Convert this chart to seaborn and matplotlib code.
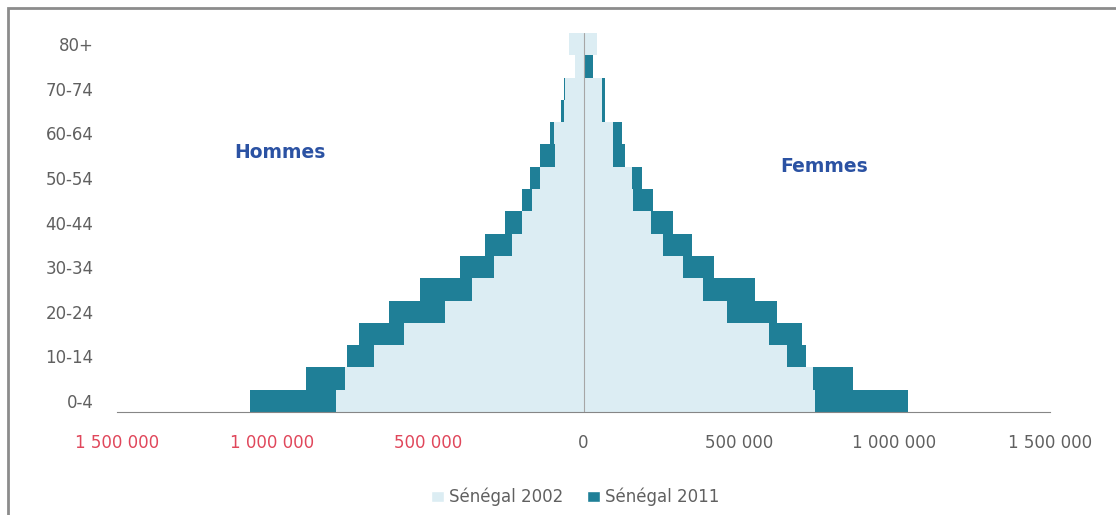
import pandas as pd
import numpy as np
import matplotlib.pyplot as plt
import seaborn as sns
from matplotlib.patches import Patch, Rectangle

ages = ['0-4', '5-9', '10-14', '15-19', '20-24', '25-29', '30-34', '35-39',
        '40-44', '45-49', '50-54', '55-59', '60-64', '65-69', '70-74', '75-79', '80+']
hommes_2002 = [797000, 766000, 675000, 578000, 444000, 359000, 289000, 230000,
               199000, 166000, 139000, 91000, 96000, 64000, 60000, 28000, 48000]
hommes_2011 = [1073000, 891000, 762000, 723000, 626000, 525000, 398000, 318000,
               252000, 198000, 171000, 139000, 107000, 71000, 64000, 24000, 40000]
femmes_2002 = [744000, 739000, 653000, 597000, 463000, 385000, 321000, 257000,
               216000, 160000, 155000, 96000, 96000, 58000, 58000, 4000, 42000]
femmes_2011 = [1044000, 865000, 715000, 701000, 621000, 551000, 420000, 350000,
               287000, 225000, 187000, 134000, 125000, 70000, 70000, 32000, 38000]
x_ticks = [-1500000, -1000000, -500000, 0, 500000, 1000000, 1500000]

light = '#dcedf3'
dark = '#1f7f97'
gray_text = '#606060'

sns.set_style('white')
plt.rcParams['font.family'] = ['DejaVu Sans']

fig = plt.figure(figsize=(11.16, 5.15), dpi=100)
ax = fig.add_axes([117 / 1116, 1 - 412 / 515, (1050 - 117) / 1116, (412 - 33) / 515])

order = ages[::-1]
df = pd.DataFrame({'age': ages,
                   'h2002': -np.array(hommes_2002), 'h2011': -np.array(hommes_2011),
                   'f2002': femmes_2002, 'f2011': femmes_2011})

# 2011 drawn first, 2002 on top (as in the original chart)
for col, c in [('h2011', dark), ('f2011', dark), ('h2002', light), ('f2002', light)]:
    sns.barplot(data=df, x=col, y='age', order=order, orient='h', width=1.0,
                color=c, saturation=1, errorbar=None, linewidth=0, ax=ax)

ax.axvline(0, color='#a6a6a6', lw=0.8, zorder=5)

ax.set_xlim(-1500000, 1500000)
ax.set_ylim(len(ages) - 0.5, -0.5)
ax.set_xlabel('')
ax.set_ylabel('')

ax.set_xticks(x_ticks)
ax.set_xticklabels([f'{abs(v):,}'.replace(',', ' ') for v in x_ticks], fontsize=12)
for lab, v in zip(ax.get_xticklabels(), x_ticks):
    lab.set_color('#e0475b' if v < 0 else gray_text)

ax.set_yticks(range(len(order)))
ax.set_yticklabels([a if ages.index(a) % 2 == 0 else '' for a in order],
                   fontsize=12, color=gray_text)

for s in ['top', 'right', 'left']:
    ax.spines[s].set_visible(False)
ax.spines['bottom'].set_color('#868686')
ax.spines['bottom'].set_linewidth(0.8)
ax.tick_params(axis='y', length=0, pad=17)
ax.tick_params(axis='x', direction='out', length=6, color='#868686', pad=10)

fig.text(280 / 1116, 1 - 153 / 515, 'Hommes', color='#2b52a3', fontsize=13.5,
         fontweight='bold', ha='center', va='center')
fig.text(824 / 1116, 1 - 167 / 515, 'Femmes', color='#2b52a3', fontsize=13.5,
         fontweight='bold', ha='center', va='center')

handles = [Patch(facecolor=light, label='Sénégal 2002'),
           Patch(facecolor=dark, label='Sénégal 2011')]
fig.legend(handles=handles, loc='center', bbox_to_anchor=(575 / 1116, 1 - 497 / 515),
           ncol=2, frameon=False, handlelength=0.8, handleheight=0.6,
           handletextpad=0.3, columnspacing=1.4, fontsize=12, labelcolor=gray_text)

# outer chart frame
fig.patches.append(Rectangle((8 / 1116, -0.1), 1.2, 1.1 - 8 / 515, transform=fig.transFigure,
                             fill=False, edgecolor='#8c8c8c', lw=2))

fig.savefig('out.png', dpi=100, facecolor='white')
